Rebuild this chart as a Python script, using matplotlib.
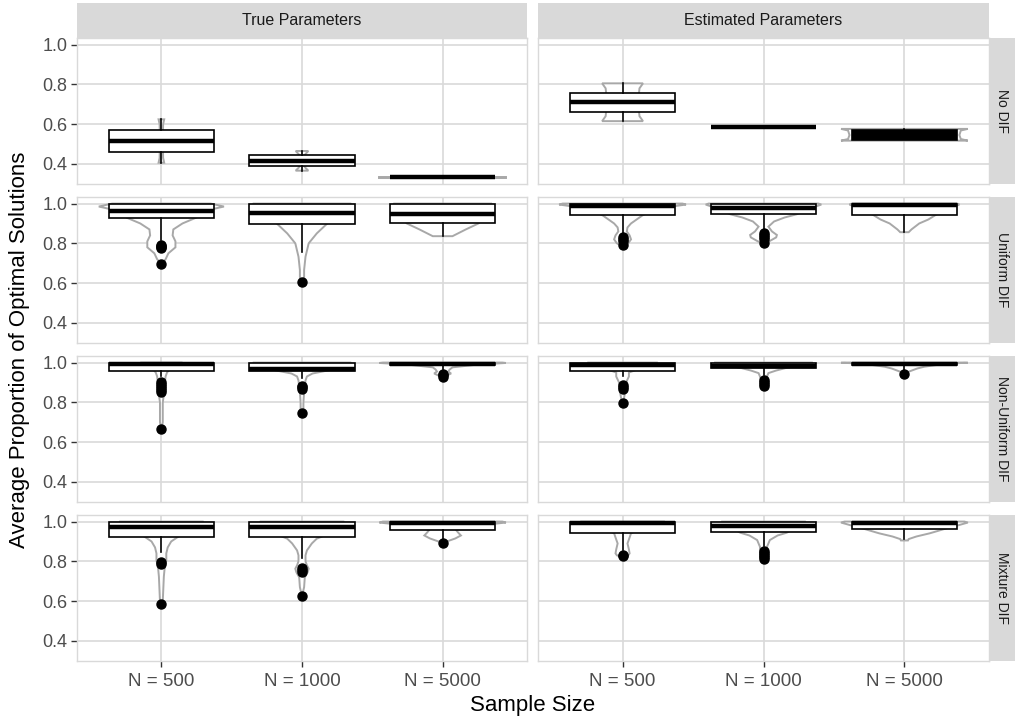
import numpy as np
import matplotlib.pyplot as plt

plt.rcParams['font.family'] = ['Liberation Sans', 'DejaVu Sans']

SAMPLE_SIZES = ["N = 500", "N = 1000", "N = 5000"]
PARAM_TYPES = ["True Parameters", "Estimated Parameters"]
DIF_TYPES = ["No DIF", "Uniform DIF", "Non-Uniform DIF", "Mixture DIF"]

# box statistics, rows = DIF type, columns = True 500/1000/5000, Estimated 500/1000/5000
whisker_lo = np.array([
    [0.406, 0.366, 0.332, 0.615, 0.584, 0.518],
    [0.817, 0.755, 0.836, 0.850, 0.867, 0.856],
    [0.930, 0.920, 0.970, 0.930, 0.936, 0.960],
    [0.845, 0.815, 0.905, 0.857, 0.875, 0.910],
])
q1 = np.array([
    [0.458, 0.389, 0.332, 0.662, 0.584, 0.522],
    [0.929, 0.897, 0.904, 0.942, 0.946, 0.942],
    [0.959, 0.960, 0.986, 0.957, 0.972, 0.986],
    [0.924, 0.924, 0.958, 0.941, 0.950, 0.963],
])
median = np.array([
    [0.516, 0.416, 0.332, 0.711, 0.584, 0.545],
    [0.964, 0.951, 0.947, 0.990, 0.976, 0.992],
    [0.995, 0.968, 0.995, 0.990, 0.985, 0.995],
    [0.974, 0.974, 0.995, 0.995, 0.978, 0.995],
])
q3 = np.array([
    [0.570, 0.443, 0.332, 0.758, 0.584, 0.572],
    [1.000, 1.000, 1.000, 1.000, 1.000, 1.000],
    [1.000, 0.998, 1.000, 1.000, 1.000, 1.000],
    [1.000, 1.000, 1.000, 1.000, 1.000, 1.000],
])
whisker_hi = np.array([
    [0.624, 0.465, 0.332, 0.805, 0.584, 0.575],
    [1.000, 1.000, 1.000, 1.000, 1.000, 1.000],
    [1.000, 1.000, 1.000, 1.000, 1.000, 1.000],
    [1.000, 1.000, 1.000, 1.000, 1.000, 1.000],
])

outliers_no_dif = [[], [], [], [], [], []]
outliers_uniform = [
    [0.790, 0.785, 0.780, 0.775, 0.696],
    [0.604],
    [],
    [0.830, 0.820, 0.810, 0.790],
    [0.850, 0.840, 0.830, 0.820, 0.800],
    [],
]
outliers_nonuniform = [
    [0.900, 0.890, 0.880, 0.870, 0.860, 0.850, 0.664],
    [0.880, 0.875, 0.865, 0.744],
    [0.945, 0.935, 0.925],
    [0.885, 0.875, 0.865, 0.795],
    [0.910, 0.900, 0.890, 0.880],
    [0.940],
]
outliers_mixture = [
    [0.795, 0.785, 0.584],
    [0.765, 0.755, 0.745, 0.625],
    [0.893],
    [0.832, 0.825],
    [0.850, 0.840, 0.830, 0.820, 0.810],
    [],
]

# violin outlines as (value, full width) pairs from bottom to top
violin_no_dif = [
    [(0.406, 0.04), (0.43, 0.025), (0.52, 0.02), (0.60, 0.025), (0.624, 0.04)],
    [(0.366, 0.09), (0.38, 0.05), (0.39, 0.03), (0.44, 0.03), (0.45, 0.05), (0.465, 0.09)],
    [(0.329, 0.90), (0.335, 0.90)],
    [(0.615, 0.29), (0.64, 0.24), (0.71, 0.22), (0.78, 0.24), (0.805, 0.29)],
    [],
    [(0.517, 0.90), (0.525, 0.80), (0.545, 0.78), (0.568, 0.80), (0.576, 0.90)],
]
violin_uniform = [
    [(0.696, 0.0), (0.72, 0.06), (0.75, 0.10), (0.78, 0.20), (0.81, 0.20), (0.84, 0.16),
     (0.87, 0.17), (0.90, 0.30), (0.93, 0.50), (0.95, 0.55), (0.97, 0.70), (0.985, 0.89), (1.0, 0.70)],
    [(0.604, 0.0), (0.63, 0.03), (0.666, 0.03), (0.733, 0.05), (0.80, 0.095), (0.85, 0.21),
     (0.90, 0.36), (0.95, 0.55), (1.0, 0.70)],
    [(0.836, 0.14), (0.87, 0.33), (0.90, 0.51), (0.95, 0.62), (1.0, 0.70)],
    [(0.785, 0.0), (0.80, 0.08), (0.82, 0.12), (0.84, 0.10), (0.86, 0.06), (0.88, 0.07),
     (0.90, 0.12), (0.92, 0.20), (0.94, 0.28), (0.97, 0.45), (0.985, 0.70), (0.995, 0.90), (1.0, 0.85)],
    [(0.800, 0.0), (0.81, 0.08), (0.83, 0.18), (0.842, 0.19), (0.86, 0.12), (0.884, 0.07),
     (0.91, 0.15), (0.93, 0.30), (0.946, 0.47), (0.98, 0.70), (0.995, 0.82), (1.0, 0.78)],
    [(0.856, 0.06), (0.87, 0.10), (0.90, 0.21), (0.92, 0.34), (0.942, 0.44), (0.97, 0.60),
     (0.995, 0.78), (1.0, 0.75)],
]
violin_nonuniform = [
    [(0.664, 0.0), (0.70, 0.02), (0.80, 0.02), (0.85, 0.04), (0.90, 0.05), (0.93, 0.06),
     (0.95, 0.08), (0.98, 0.15), (1.0, 0.30)],
    [(0.744, 0.0), (0.76, 0.02), (0.80, 0.02), (0.85, 0.03), (0.88, 0.04), (0.91, 0.05),
     (0.93, 0.07), (0.945, 0.15), (0.959, 0.35), (0.98, 0.60), (1.0, 0.70)],
    [(0.925, 0.0), (0.935, 0.06), (0.945, 0.12), (0.955, 0.08), (0.965, 0.10), (0.976, 0.14),
     (0.99, 0.50), (0.998, 0.90), (1.0, 0.85)],
    [(0.795, 0.0), (0.82, 0.02), (0.86, 0.04), (0.90, 0.05), (0.93, 0.09), (0.95, 0.09),
     (0.97, 0.25), (1.0, 0.50)],
    [(0.880, 0.0), (0.90, 0.03), (0.93, 0.05), (0.947, 0.07), (0.96, 0.18), (0.972, 0.31),
     (0.99, 0.60), (1.0, 0.70)],
    [(0.940, 0.02), (0.954, 0.06), (0.97, 0.18), (0.979, 0.28), (0.995, 0.60), (0.999, 0.90),
     (1.0, 0.85)],
]
violin_mixture = [
    [(0.584, 0.0), (0.60, 0.02), (0.723, 0.035), (0.76, 0.045), (0.79, 0.06), (0.806, 0.07),
     (0.84, 0.07), (0.87, 0.09), (0.90, 0.14), (0.924, 0.24), (0.96, 0.40), (1.0, 0.60)],
    [(0.625, 0.0), (0.67, 0.03), (0.72, 0.04), (0.745, 0.08), (0.763, 0.095), (0.78, 0.07),
     (0.80, 0.05), (0.83, 0.05), (0.855, 0.07), (0.89, 0.14), (0.914, 0.21), (0.924, 0.28),
     (0.96, 0.45), (1.0, 0.60)],
    [(0.895, 0.0), (0.90, 0.06), (0.915, 0.18), (0.93, 0.26), (0.945, 0.22), (0.958, 0.19),
     (0.98, 0.50), (0.995, 0.90), (1.0, 0.85)],
    [(0.822, 0.0), (0.83, 0.08), (0.84, 0.10), (0.86, 0.09), (0.89, 0.07), (0.92, 0.10),
     (0.941, 0.12), (0.97, 0.30), (1.0, 0.60)],
    [(0.810, 0.0), (0.82, 0.05), (0.85, 0.05), (0.873, 0.05), (0.907, 0.09), (0.93, 0.20),
     (0.944, 0.33), (0.98, 0.50), (1.0, 0.60)],
    [(0.905, 0.05), (0.912, 0.06), (0.925, 0.17), (0.941, 0.36), (0.963, 0.57), (0.98, 0.75),
     (0.995, 0.90), (1.0, 0.85)],
]

outliers = [outliers_no_dif, outliers_uniform, outliers_nonuniform, outliers_mixture]
violins = [violin_no_dif, violin_uniform, violin_nonuniform, violin_mixture]

# boxes whose stacked medians render as a solid bar
solid_boxes = {(0, 5)}

W, H = 1015, 723
fig = plt.figure(figsize=(W / 100, H / 100), dpi=100)


def px_axes(x0, y0, x1, y1):
    # axes from pixel corners measured from the top-left of the figure
    return fig.add_axes([x0 / W, 1 - y1 / H, (x1 - x0) / W, (y1 - y0) / H])


col_x = [(77, 527), (538, 989)]
row_y = [(38, 184), (197, 343), (356, 502), (515, 661)]
GRID = '#D9D9D9'
STRIP = '#D9D9D9'
positions = [1, 2, 3]

for r, dif in enumerate(DIF_TYPES):
    for c, param in enumerate(PARAM_TYPES):
        x0, x1 = col_x[c]
        y0, y1 = row_y[r]
        ax = px_axes(x0, y0, x1, y1)
        ax.set_xlim(0.4, 3.6)
        ax.set_ylim(0.299, 1.033)
        ax.set_xticks(positions)
        ax.set_xticklabels(SAMPLE_SIZES)
        ax.set_yticks([0.4, 0.6, 0.8, 1.0])
        ax.set_yticklabels(['0.4', '0.6', '0.8', '1.0'])
        ax.grid(color=GRID, linewidth=1.2)
        ax.set_axisbelow(True)
        for sp in ax.spines.values():
            sp.set_color(GRID)
            sp.set_linewidth(1.0)
        ax.tick_params(length=4, width=1.0, color='#333333', labelcolor='#4D4D4D')
        ax.tick_params(axis='x', labelsize=13.5, pad=5)
        ax.tick_params(axis='y', labelsize=13, pad=3)
        if c != 0:
            ax.tick_params(left=False, labelleft=False)
        if r != len(DIF_TYPES) - 1:
            ax.tick_params(bottom=False, labelbottom=False)

        # violins first, boxes drawn over them
        for k, pos in enumerate(positions):
            prof = violins[r][3 * c + k]
            if not prof:
                continue
            vals = np.array([p[0] for p in prof])
            wid = np.array([p[1] for p in prof]) / 2
            xs = np.concatenate([pos - wid, (pos + wid)[::-1]])
            ys = np.concatenate([vals, vals[::-1]])
            ax.fill(xs, ys, facecolor='white', edgecolor='#A8A8A8', linewidth=1.4, zorder=2)

        stats = []
        for k in range(3):
            j = 3 * c + k
            stats.append(dict(whislo=whisker_lo[r, j], q1=q1[r, j], med=median[r, j],
                              q3=q3[r, j], whishi=whisker_hi[r, j],
                              fliers=outliers[r][j]))
        bp = ax.bxp(stats, positions=positions, widths=0.75, patch_artist=True,
                    showcaps=False, manage_ticks=False, zorder=3,
                    boxprops=dict(facecolor='white', edgecolor='black', linewidth=1.2),
                    medianprops=dict(color='black', linewidth=3.2, solid_capstyle='butt'),
                    whiskerprops=dict(color='black', linewidth=1.2),
                    flierprops=dict(marker='o', markerfacecolor='black',
                                    markeredgecolor='black', markersize=6.5,
                                    linestyle='none'))
        for k, patch in enumerate(bp['boxes']):
            if (r, 3 * c + k) in solid_boxes:
                patch.set_facecolor('black')

# column strips
for c, param in enumerate(PARAM_TYPES):
    x0, x1 = col_x[c]
    sax = px_axes(x0, 3, x1, 38)
    sax.set_facecolor(STRIP)
    sax.set_xticks([])
    sax.set_yticks([])
    for sp in sax.spines.values():
        sp.set_visible(False)
    sax.text(0.5, 0.5, param, ha='center', va='center', fontsize=11.5,
             color='#1A1A1A', transform=sax.transAxes)

# row strips
for r, dif in enumerate(DIF_TYPES):
    y0, y1 = row_y[r]
    sax = px_axes(989, y0, 1015, y1)
    sax.set_facecolor(STRIP)
    sax.set_xticks([])
    sax.set_yticks([])
    for sp in sax.spines.values():
        sp.set_visible(False)
    sax.text(0.5, 0.5, dif, ha='center', va='center', fontsize=10, rotation=270,
             color='#1A1A1A', transform=sax.transAxes)

fig.text(20 / W, 1 - 350 / H, 'Average Proportion of Optimal Solutions', rotation=90,
         ha='center', va='center', fontsize=16, color='black')
fig.text(533 / W, 1 - 706 / H, 'Sample Size', ha='center', va='center',
         fontsize=16, color='black')

fig.savefig('out.png', dpi=100)
